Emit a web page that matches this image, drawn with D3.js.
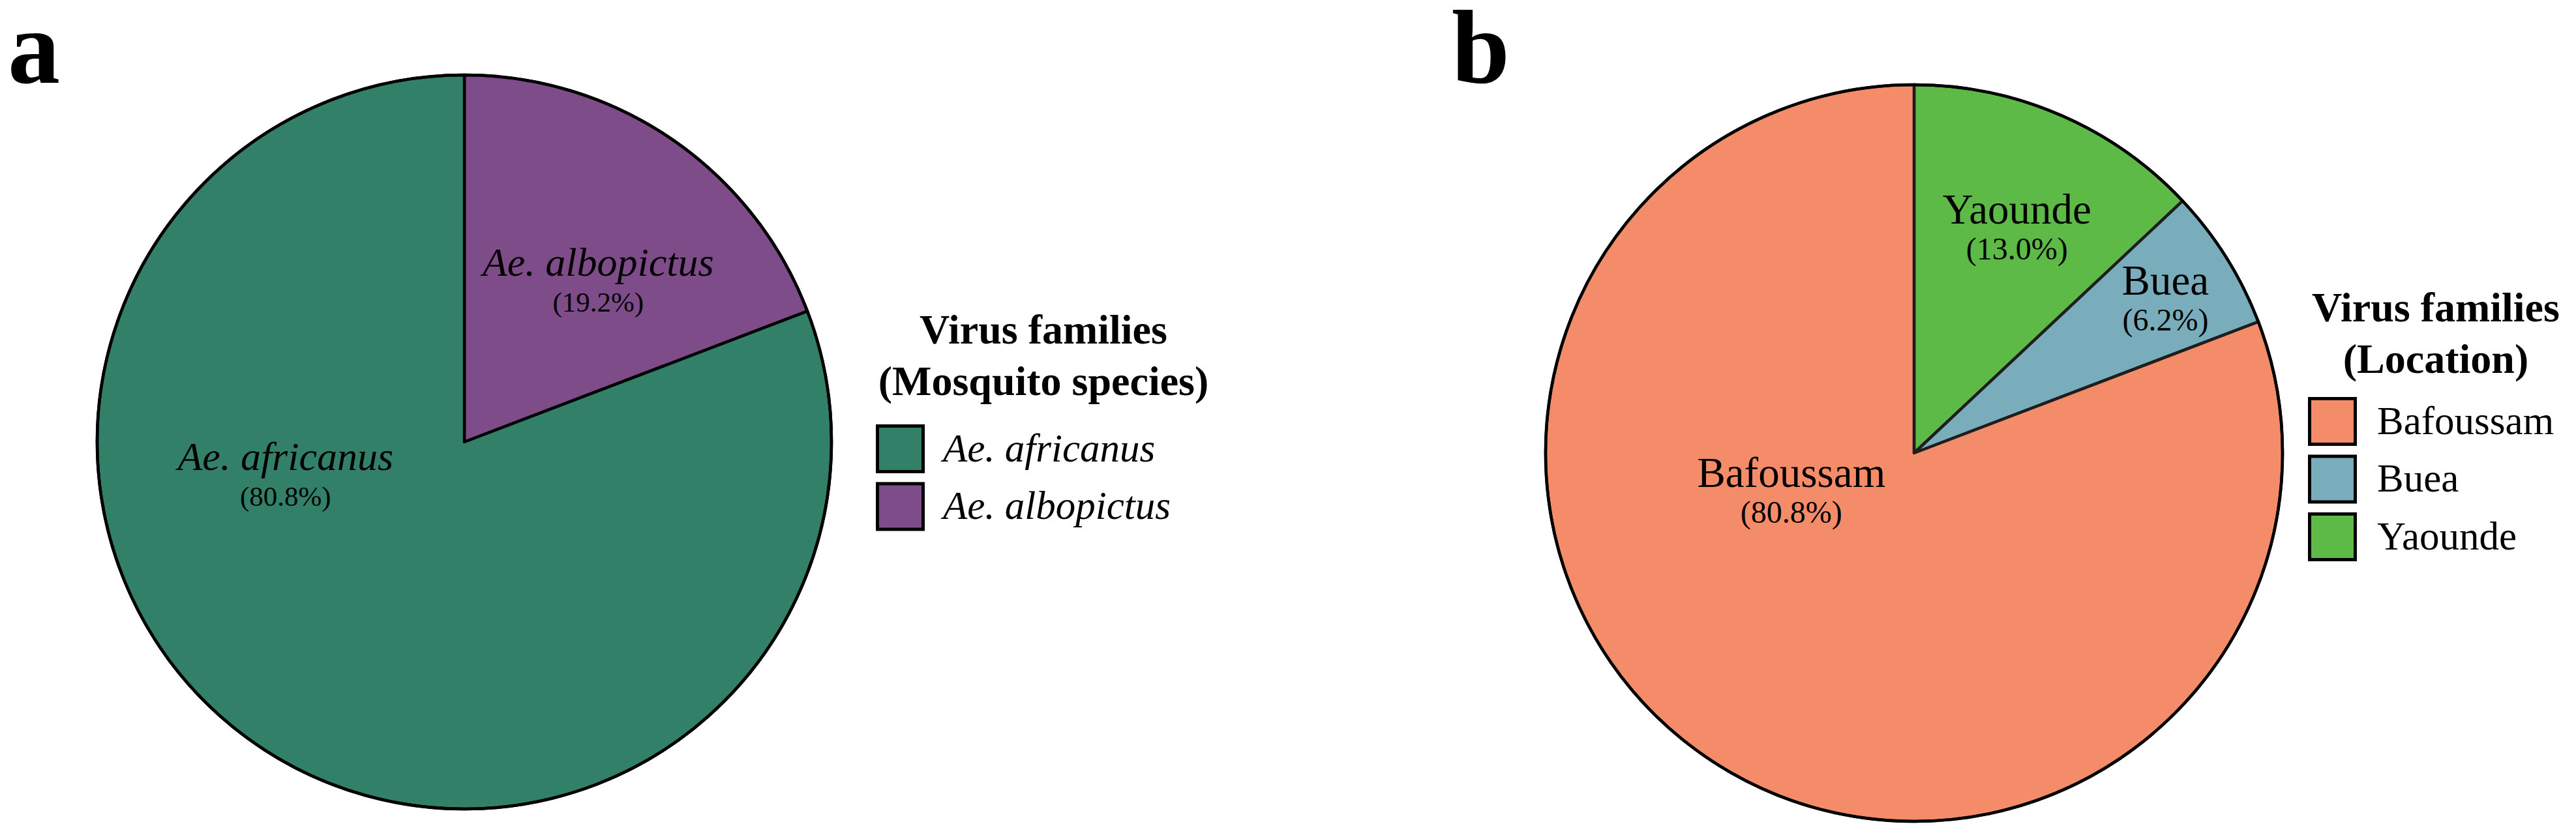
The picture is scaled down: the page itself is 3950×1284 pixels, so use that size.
<!DOCTYPE html>
<html>
<head>
<meta charset="utf-8">
<script src="https://cdn.jsdelivr.net/npm/d3@7"></script>
<style>
  html, body { margin: 0; padding: 0; background: #fff; }
  svg { display: block; font-family: "Liberation Serif", "Times New Roman", serif; }
</style>
</head>
<body>
<div id="chart"></div>
<script>
// data
const speciesNames = ["Ae. africanus", "Ae. albopictus"];
const speciesShare = [80.8, 19.2];
const speciesColors = ["#338069", "#7f4c8a"];

const locationNames = ["Bafoussam", "Buea", "Yaounde"];
const locationShare = [80.8, 6.2, 13.0];
const locationColors = ["#f58c69", "#7aadbc", "#5dba47"];

const W = 3950, H = 1284;

const svg = d3.select("#chart")
  .append("svg")
  .attr("width", W)
  .attr("height", H);

// layout of each panel (positions in px, label angles in degrees clockwise from top)
const panels = [
  {
    tag: "a", tagX: 12, tagY: 127,
    names: speciesNames, values: speciesShare, colors: speciesColors,
    cx: 712, cy: 678, r: 563,
    stroke: "#000",
    italic: true, labelSize: 62, pctSize: 43,
    labelAt: {"Ae. africanus": [-100.3, 0.495], "Ae. albopictus": [39.6, 0.572]},
    title: ["Virus families", "(Mosquito species)"],
    titleX: 1600, titleY: 527,
    keyX: 1343, keyY: 651,
    textX: 1446
  },
  {
    tag: "b", tagX: 2226, tagY: 127,
    names: locationNames, values: locationShare, colors: locationColors,
    cx: 2935, cy: 695, r: 565,
    stroke: "#1e1e1e",
    italic: false, labelSize: 65, pctSize: 48,
    labelAt: {"Bafoussam": [-107.4, 0.349], "Buea": [58.5, 0.80], "Yaounde": [24.6, 0.671]},
    title: ["Virus families", "(Location)"],
    titleX: 3735, titleY: 493,
    keyX: 3539, keyY: 609,
    textX: 3645
  }
];

const rad = Math.PI / 180;

panels.forEach(p => {
  const rows = p.names.map((n, i) => ({name: n, value: p.values[i], color: p.colors[i]}));

  // slices run clockwise from 12 o'clock in reverse legend order
  const pie = d3.pie().sort(null).value(d => d.value);
  const arcs = pie(rows.slice().reverse());
  const arc = d3.arc().innerRadius(0).outerRadius(p.r);

  const g = svg.append("g").attr("transform", `translate(${p.cx},${p.cy})`);

  g.selectAll("path.slice")
    .data(arcs)
    .join("path")
    .attr("class", "slice")
    .attr("d", arc)
    .attr("fill", d => d.data.color)
    .attr("stroke", p.stroke)
    .attr("stroke-width", 4.5)
    .attr("stroke-linejoin", "round");

  g.append("circle")
    .attr("r", p.r)
    .attr("fill", "none")
    .attr("stroke", "#000")
    .attr("stroke-width", 4.5);

  // slice labels
  const lab = g.selectAll("g.lab")
    .data(arcs)
    .join("g")
    .attr("class", "lab")
    .attr("transform", d => {
      const [a, f] = p.labelAt[d.data.name];
      const [x, y] = d3.pointRadial(a * rad, f * p.r);
      return `translate(${x},${y})`;
    });

  lab.append("text")
    .attr("y", -7)
    .attr("text-anchor", "middle")
    .attr("font-size", p.labelSize)
    .attr("font-style", p.italic ? "italic" : "normal")
    .text(d => d.data.name);

  lab.append("text")
    .attr("y", 48)
    .attr("text-anchor", "middle")
    .attr("font-size", p.pctSize)
    .text(d => `(${d.data.value.toFixed(1)}%)`);

  // panel tag
  svg.append("text")
    .attr("x", p.tagX)
    .attr("y", p.tagY)
    .attr("font-size", 160)
    .attr("font-weight", "bold")
    .text(p.tag);

  // legend
  const leg = svg.append("g");
  leg.selectAll("text.title")
    .data(p.title)
    .join("text")
    .attr("class", "title")
    .attr("x", p.titleX)
    .attr("y", (d, i) => p.titleY + i * 79)
    .attr("text-anchor", "middle")
    .attr("font-size", 64)
    .attr("font-weight", "bold")
    .text(d => d);

  const key = 75, step = 88.5;
  const item = leg.selectAll("g.item")
    .data(rows)
    .join("g")
    .attr("class", "item")
    .attr("transform", (d, i) => `translate(${p.keyX},${p.keyY + i * step})`);

  item.append("rect")
    .attr("x", 2.5).attr("y", 2.5)
    .attr("width", key - 5).attr("height", key - 5)
    .attr("fill", d => d.color)
    .attr("stroke", "#000")
    .attr("stroke-width", 5);

  item.append("text")
    .attr("x", p.textX - p.keyX)
    .attr("y", key / 2 + 19)
    .attr("font-size", 61)
    .attr("font-style", p.italic ? "italic" : "normal")
    .text(d => d.name);
});
</script>
</body>
</html>
